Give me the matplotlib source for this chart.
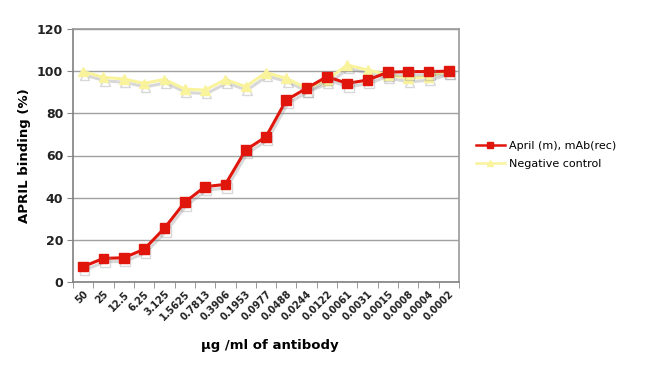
import matplotlib
matplotlib.use("Agg")
import matplotlib.pyplot as plt
import matplotlib.patheffects as pe
from matplotlib.lines import Line2D
import numpy as np

# antibody dilution series (ug/ml) and binding values
doses = ["50", "25", "12.5", "6.25", "3.125", "1.5625", "0.7813", "0.3906", "0.1953",
         "0.0977", "0.0488", "0.0244", "0.0122", "0.0061", "0.0031", "0.0015",
         "0.0008", "0.0004", "0.0002"]
april_mab = [7.3, 11.2, 11.5, 15.5, 25.5, 37.8, 45.2, 46.3, 62.6, 68.9, 86.3, 91.9,
             97.4, 94.2, 95.8, 99.5, 99.8, 99.8, 100.0]
neg_ctrl = [99.8, 97.1, 96.3, 94.2, 96.1, 91.5, 91.0, 96.0, 92.7, 99.3, 96.6, 91.9,
            95.8, 102.9, 100.6, 98.2, 96.6, 97.4, 100.2]

red = "#e0160c"
yellow = "#f9f39c"

fig = plt.figure(figsize=(6.5, 3.76), dpi=100)
ax = fig.add_axes([73 / 650, 1 - 282 / 376, 386 / 650, 253 / 376])

x = np.arange(len(doses))
shadow = [pe.SimpleLineShadow(offset=(1, -2.5), shadow_color="#909090", alpha=0.35), pe.Normal()]

ax.plot(x, neg_ctrl, color=yellow, marker="^", markersize=7, linewidth=2.2,
        path_effects=shadow, zorder=3)
ax.plot(x, april_mab, color=red, marker="s", markersize=7, linewidth=2.2,
        path_effects=shadow, zorder=4)

ax.set_xlim(-0.5, len(doses) - 0.5)
ax.set_ylim(0, 120)
ax.set_yticks(range(0, 121, 20))
ax.set_xticks(x)
ax.set_xticklabels(doses, rotation=45, ha="right", rotation_mode="anchor",
                   fontsize=7, fontweight="bold", color="#222222")
ax.set_xticks(np.arange(-0.5, len(doses)), minor=True)
ax.tick_params(axis="x", which="major", length=0, pad=5)
ax.tick_params(axis="x", which="minor", length=4, color="#888888")
ax.tick_params(axis="y", length=4, color="#888888", labelsize=9, pad=3)
for t in ax.get_yticklabels():
    t.set_fontweight("bold")
    t.set_color("#222222")

ax.grid(axis="y", color="#a0a0a0", linewidth=1)
ax.set_axisbelow(True)
for s in ax.spines.values():
    s.set_color("#9a9a9a")
    s.set_linewidth(1.2)
ax.spines["left"].set_color("#808080")
ax.spines["bottom"].set_color("#808080")

ax.set_ylabel("APRIL binding (%)", fontsize=9.5, fontweight="bold", labelpad=4)
fig.text(270 / 650, 1 - 345 / 376, "µg /ml of antibody", fontsize=9.5,
         fontweight="bold", ha="center", va="center")

handles = [Line2D([], [], color=red, marker="s", markersize=5, linewidth=1.8),
           Line2D([], [], color=yellow, marker="^", markersize=5, linewidth=1.8)]
fig.legend(handles, ["April (m), mAb(rec)", "Negative control"], loc="center left",
           bbox_to_anchor=(466 / 650, 1 - 155 / 376), frameon=False,
           fontsize=8, handlelength=2.6, handletextpad=0.4, labelspacing=0.7)

fig.savefig("out.png", dpi=100)
